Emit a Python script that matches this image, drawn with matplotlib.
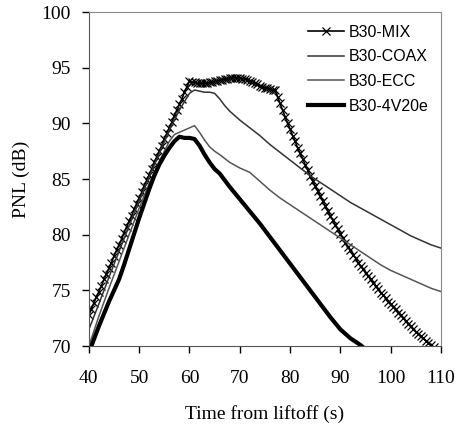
import matplotlib
matplotlib.use("Agg")
import matplotlib.pyplot as plt

# B30-MIX, read every 0.5 s
mix_t = [40 + 0.5 * i for i in range(138)]
mix_pnl = [
    72.8, 73.3, 73.9, 74.4, 74.9, 75.4, 76.0, 76.5, 77.0, 77.5,   # 40 - 44.5
    78.1, 78.6, 79.1, 79.6, 80.2, 80.7, 81.2, 81.7, 82.3, 82.8,   # 45 - 49.5
    83.3, 83.8, 84.4, 84.9, 85.4, 85.9, 86.5, 87.0, 87.5, 88.0,   # 50 - 54.5
    88.6, 89.1, 89.6, 90.1, 90.7, 91.2, 91.7, 92.2, 92.8, 93.3,   # 55 - 59.5
    93.8, 93.7, 93.7, 93.6, 93.6, 93.6, 93.6, 93.6, 93.7, 93.7,   # 60 - 64.5
    93.8, 93.8, 93.9, 93.9, 94.0, 94.0, 94.1, 94.1, 94.1, 94.1,   # 65 - 69.5
    94.1, 94.0, 94.0, 93.9, 93.8, 93.7, 93.6, 93.5, 93.4, 93.3,   # 70 - 74.5
    93.2, 93.2, 93.1, 93.0, 93.0, 92.4, 91.8, 91.2, 90.6, 90.0,   # 75 - 79.5
    89.5, 88.9, 88.4, 87.8, 87.3, 86.8, 86.3, 85.8, 85.3, 84.8,   # 80 - 84.5
    84.4, 83.9, 83.5, 83.0, 82.6, 82.1, 81.7, 81.3, 80.9, 80.5,   # 85 - 89.5
    80.1, 79.7, 79.3, 78.9, 78.6, 78.2, 77.9, 77.5, 77.2, 76.9,   # 90 - 94.5
    76.6, 76.3, 76.0, 75.7, 75.4, 75.1, 74.8, 74.6, 74.3, 74.0,   # 95 - 99.5
    73.8, 73.5, 73.3, 73.0, 72.8, 72.5, 72.3, 72.0, 71.8, 71.5,   # 100 - 104.5
    71.3, 71.1, 70.9, 70.7, 70.5, 70.3, 70.1, 69.9,               # 105 - 108.5
]

coax_t = [40, 42, 44, 46, 48, 50, 52, 54, 56, 58, 60, 61, 62, 63, 64, 65,
          66, 67, 68, 69, 70, 72, 74, 76, 78, 80, 82, 84, 86, 88, 90, 92,
          94, 96, 98, 100, 102, 104, 106, 108, 110]
coax_pnl = [71.5, 73.8, 76.2, 78.5, 80.8, 83.0, 85.2, 87.3, 89.4, 91.2, 92.7,
            93.0, 92.9, 92.8, 92.8, 92.7, 92.2, 91.6, 91.1, 90.7, 90.3, 89.6,
            88.9, 88.1, 87.4, 86.7, 86.0, 85.3, 84.7, 84.1, 83.5, 82.9, 82.4,
            81.9, 81.4, 80.9, 80.4, 79.9, 79.5, 79.1, 78.8]

ecc_t = [40, 42, 44, 46, 48, 50, 52, 54, 56, 57, 58, 59, 60, 61, 62, 63, 64,
         65, 66, 68, 70, 72, 74, 76, 78, 80, 82, 84, 86, 88, 90, 92, 94, 96,
         98, 100, 102, 104, 106, 108, 110]
ecc_pnl = [70.0, 72.7, 75.2, 77.6, 80.0, 82.4, 84.6, 86.6, 88.4, 89.0, 89.2,
           89.4, 89.6, 89.8, 89.2, 88.5, 87.9, 87.5, 87.2, 86.5, 86.0, 85.6,
           84.8, 84.0, 83.3, 82.7, 82.1, 81.5, 80.9, 80.3, 79.7, 79.1, 78.5,
           77.9, 77.3, 76.8, 76.4, 76.0, 75.6, 75.2, 74.9]

v20_t = [40.5, 41, 42, 43, 44, 45, 46, 47, 48, 49, 50, 51, 52, 53, 54, 55, 56,
         57, 58, 59, 60, 61, 62, 63, 64, 65, 66, 68, 70, 72, 74, 76, 78, 80,
         82, 84, 86, 88, 90, 92, 94, 95]
v20_pnl = [70.0, 70.6, 71.8, 72.9, 74.0, 75.0, 76.0, 77.3, 78.7, 80.1, 81.5,
           82.8, 84.1, 85.3, 86.3, 87.1, 87.8, 88.4, 88.8, 88.7, 88.7, 88.6,
           88.0, 87.2, 86.5, 85.9, 85.5, 84.3, 83.2, 82.1, 81.0, 79.8, 78.6,
           77.4, 76.2, 75.0, 73.8, 72.6, 71.5, 70.7, 70.1, 69.7]

serif = "Liberation Serif"
sans = "Liberation Sans"

fig = plt.figure(figsize=(4.58, 4.30), dpi=100)
ax = fig.add_axes([0.194, 0.195, 0.769, 0.777])

ax.plot(mix_t, mix_pnl, color="black", lw=1.2, marker="x", ms=5.5, mew=0.9,
        label="B30-MIX")
ax.plot(coax_t, coax_pnl, color="#333333", lw=1.1, label="B30-COAX")
ax.plot(ecc_t, ecc_pnl, color="#555555", lw=1.1, label="B30-ECC")
ax.plot(v20_t, v20_pnl, color="black", lw=3.0, label="B30-4V20e")

ax.set_xlim(40, 110)
ax.set_ylim(70, 100)
ax.set_xticks(range(40, 111, 10))
ax.set_yticks(range(70, 101, 5))
ax.tick_params(axis="x", direction="out", length=5, width=1, pad=12)
ax.tick_params(axis="y", direction="out", length=5, width=1, pad=8)
for lab in ax.get_xticklabels() + ax.get_yticklabels():
    lab.set_fontfamily(serif)
    lab.set_fontsize(14)

ax.set_xlabel("Time from liftoff (s)", fontfamily=serif, fontsize=14, labelpad=13)
ax.set_ylabel("PNL (dB)", fontfamily=serif, fontsize=14, labelpad=8)

for s in ["top", "right"]:
    ax.spines[s].set_color("#888888")
for s in ["left", "bottom"]:
    ax.spines[s].set_color("#555555")

leg = ax.legend(loc="upper right", frameon=False, prop={"family": sans, "size": 11.5},
                handlelength=2.2, handletextpad=0.3, labelspacing=0.6,
                borderaxespad=0.4)

fig.savefig("out.png", dpi=100)
